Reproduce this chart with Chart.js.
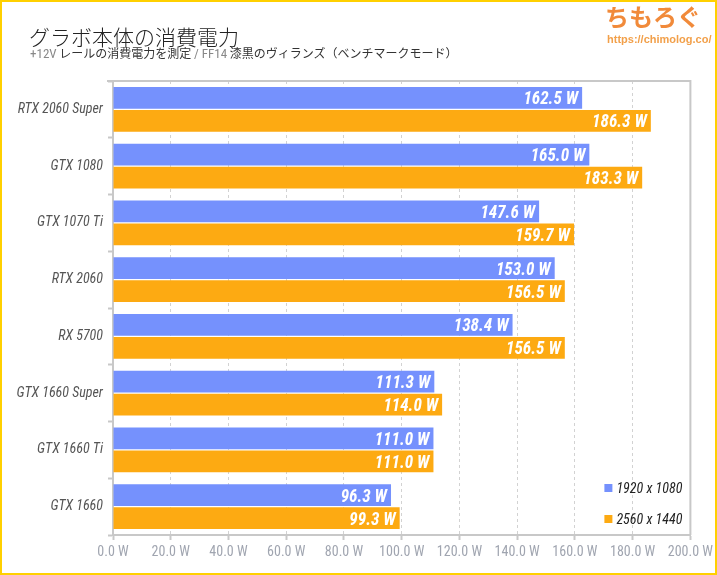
<!DOCTYPE html>
<html>
<head>
<meta charset="utf-8">
<script src="https://cdn.jsdelivr.net/npm/chart.js@4.4.0/dist/chart.umd.min.js"></script>
<style>
body { margin: 0; background: #fff; }
#wrap { position: relative; width: 717px; height: 575px; overflow: hidden; font-family: 'Noto Sans CJK JP', sans-serif; }
#frame { position: absolute; left: 0; top: 0; width: 717px; height: 575px; box-sizing: border-box; border: 2px solid #ffd000; pointer-events: none; }
#title { position: absolute; left: 29px; top: 26px; font-size: 21px; font-weight: 300; color: #222; line-height: 1; white-space: nowrap; }
#sub { position: absolute; left: 30px; top: 47px; font-size: 12px; color: #333; line-height: 1; white-space: nowrap; }
#sub .l { color: #888; font-size: 13px; font-family: 'Roboto Condensed', 'Liberation Sans Narrow', Roboto, sans-serif; }
#logo { position: absolute; left: 605px; top: 4px; font-size: 24px; font-weight: 700; color: #f18a3a; line-height: 1; white-space: nowrap; }
#url { position: absolute; left: 607px; top: 34px; font-size: 11px; font-weight: 700; color: #f2a04a; line-height: 1; font-family: 'Liberation Sans', Arial, sans-serif; white-space: nowrap; }
canvas { position: absolute; left: 0; top: 0; }
</style>
</head>
<body>
<div id="wrap">
  <canvas id="myChart" width="717" height="575"></canvas>
  <div id="title">グラボ本体の消費電力</div>
  <div id="sub"><span class="l">+12V</span> レールの消費電力を測定 <span class="l">/ FF14</span> 漆黒のヴィランズ（ベンチマークモード）</div>
  <div id="logo">ちもろぐ</div>
  <div id="url">https://chimolog.co/</div>
  <div id="frame"></div>
</div>
<script>
const gpus = ['RTX 2060 Super', 'GTX 1080', 'GTX 1070 Ti', 'RTX 2060', 'RX 5700', 'GTX 1660 Super', 'GTX 1660 Ti', 'GTX 1660'];
const fhd = [162.5, 165.0, 147.6, 153.0, 138.4, 111.3, 111.0, 96.3];
const wqhd = [186.3, 183.3, 159.7, 156.5, 156.5, 114.0, 111.0, 99.3];
const seriesNames = ['1920 x 1080', '2560 x 1440'];
const xMin = 0, xMax = 200, xStep = 20;

// pick a narrow font if there is one
function hasFont(name) {
    const c = document.createElement('canvas').getContext('2d');
    c.font = '40px monospace';
    const a = c.measureText('mmmWWW1234il').width;
    c.font = "40px '" + name + "', monospace";
    return c.measureText('mmmWWW1234il').width !== a;
}
let cond = null;
['Roboto Condensed', 'Liberation Sans Narrow', 'DejaVu Sans Condensed'].forEach(f => {
    if (!cond && hasFont(f)) cond = f;
});
const tickFamily = cond ? "'" + cond + "', Roboto, sans-serif" : 'Roboto, sans-serif';
const squeeze = cond ? 1 : 0.8;

const labelPlugin = {
    id: 'barLabels',
    afterDatasetsDraw(chart) {
        const ctx = chart.ctx;
        ctx.save();
        ctx.fillStyle = '#fff';
        ctx.textAlign = 'right';
        ctx.textBaseline = 'alphabetic';
        ctx.font = 'italic bold 19px ' + (cond ? "'" + cond + "'" : 'Roboto');
        chart.data.datasets.forEach((ds, i) => {
            chart.getDatasetMeta(i).data.forEach((bar, j) => {
                const txt = ds.data[j].toFixed(1) + ' W';
                ctx.save();
                ctx.translate(bar.x - 4, bar.y + 6.5);
                ctx.scale(squeeze * 0.9, 1);
                ctx.fillText(txt, 0, 0);
                ctx.restore();
            });
        });
        ctx.restore();
    }
};

const framePlugin = {
    id: 'frameAndLegend',
    afterDraw(chart) {
        const ctx = chart.ctx;
        const a = chart.chartArea;
        ctx.save();
        ctx.strokeStyle = '#c8c8c8';
        ctx.lineWidth = 2;
        ctx.beginPath();
        ctx.moveTo(a.left - 6, a.top);
        ctx.lineTo(a.right, a.top);
        ctx.lineTo(a.right, a.bottom);
        ctx.stroke();

        // legend
        ctx.font = 'italic 14px ' + (cond ? "'" + cond + "'" : 'Roboto');
        ctx.textAlign = 'left';
        ctx.textBaseline = 'middle';
        chart.data.datasets.forEach((ds, i) => {
            const y = a.bottom - 47 + i * 31;
            ctx.fillStyle = ds.backgroundColor;
            ctx.fillRect(a.right - 86, y - 4, 8, 8);
            ctx.fillStyle = '#222';
            ctx.save();
            ctx.translate(a.right - 74, y + 1);
            ctx.scale(squeeze, 1);
            ctx.fillText(ds.label, 0, 0);
            ctx.restore();
        });
        ctx.restore();
    }
};

const data = {
    labels: gpus,
    datasets: [{
            label: seriesNames[0],
            data: fhd,
            backgroundColor: '#7591fd'
        }, {
            label: seriesNames[1],
            data: wqhd,
            backgroundColor: '#fdaa12'
        }]
};

const config = {
    type: 'bar',
    data: data,
    plugins: [labelPlugin, framePlugin],
    options: {
        indexAxis: 'y',
        responsive: false,
        animation: false,
        layout: {
            padding: {top: 81, right: 23, left: 0, bottom: 0}
        },
        datasets: {
            bar: {categoryPercentage: 0.81, barPercentage: 0.94}
        },
        plugins: {
            legend: {display: false},
            tooltip: {enabled: false}
        },
        scales: {
            x: {
                min: xMin,
                max: xMax,
                afterFit(s) { s.height = 40; },
                ticks: {
                    stepSize: xStep,
                    autoSkip: false,
                    maxRotation: 0,
                    padding: 4,
                    color: '#a0a5b0',
                    font: {family: tickFamily, size: 14},
                    callback: v => v.toFixed(1) + ' W'
                },
                grid: {
                    color: '#d2d2d2',
                    tickColor: '#c8c8c8',
                    tickLength: 5,
                    tickWidth: 2
                },
                border: {
                    color: '#c8c8c8',
                    width: 2,
                    dash: [3, 3]
                }
            },
            y: {
                afterFit(s) { s.width = 113; },
                ticks: {
                    color: '#555',
                    padding: 5,
                    font: {family: tickFamily, size: 14, style: 'italic'}
                },
                grid: {
                    drawOnChartArea: false,
                    tickColor: '#c8c8c8',
                    tickLength: 5,
                    tickWidth: 2
                },
                border: {
                    color: '#c8c8c8',
                    width: 2
                }
            }
        }
    }
};

var ctx = document.getElementById('myChart');
const myChart = new Chart(ctx, config);
</script>
</body>
</html>
